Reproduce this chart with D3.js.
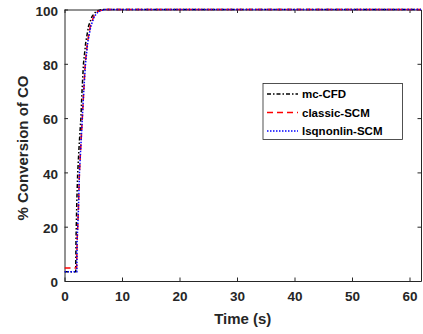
<!DOCTYPE html>
<html>
<head>
<meta charset="utf-8">
<script src="https://cdn.jsdelivr.net/npm/d3@7"></script>
<style>
  body { margin: 0; background: #fff; }
  svg { display: block; font-family: "Liberation Sans", Arial, sans-serif; }
</style>
</head>
<body>
<svg id="chart" width="423" height="334"></svg>
<script>
// data
const mcTime = [0, 1.95, 2.0, 2.15, 2.3, 2.55, 2.85, 3.05, 3.3, 3.7, 4.2, 4.8, 5.5, 6.5, 62];
const mcConv = [3.4, 3.4, 15, 30, 40, 50, 60, 70, 80, 88, 94, 97.5, 99.3, 100, 100];
const classicTime = [0, 2.1, 2.2, 2.4, 2.6, 2.85, 3.1, 3.35, 3.6, 4.0, 4.5, 5.1, 5.8, 7, 62];
const classicConv = [4.8, 4.8, 15, 25, 40, 50, 60, 70, 80, 88, 94, 97.5, 99.3, 100, 100];
const lsqTime = [0, 2.15, 2.2, 2.4, 2.6, 2.85, 3.1, 3.35, 3.65, 4.05, 4.6, 5.2, 5.9, 7, 62];
const lsqConv = [3.4, 3.4, 15, 25, 40, 50, 60, 70, 80, 88, 94, 97.5, 99.3, 100, 100];
const xTicks = [0, 10, 20, 30, 40, 50, 60];
const yTicks = [0, 20, 40, 60, 80, 100];

const series = [
  { name: "mc-CFD", t: mcTime, v: mcConv, color: "#000", dash: "4,2,1.5,2" },
  { name: "classic-SCM", t: classicTime, v: classicConv, color: "#ff0000", dash: "6,4" },
  { name: "lsqnonlin-SCM", t: lsqTime, v: lsqConv, color: "#0000ff", dash: "1.5,1.5" }
];

const svg = d3.select("#chart");
const margin = { top: 9.5, right: 2, bottom: 53, left: 64.5 };
const width = 423 - margin.left - margin.right;
const height = 334 - margin.top - margin.bottom;

const g = svg.append("g").attr("transform", `translate(${margin.left},${margin.top})`);

const x = d3.scaleLinear().domain([0, 62]).range([0, width]);
const y = d3.scaleLinear().domain([0, 100]).range([height, 0]);

g.append("defs").append("clipPath").attr("id", "clip")
  .append("rect").attr("x", 0).attr("y", -2).attr("width", width).attr("height", height + 2);

const tickLen = 3.5;
const axisColor = "#262626";

function styleAxis(sel) {
  sel.select(".domain").attr("stroke", axisColor);
  sel.selectAll(".tick line").attr("stroke", axisColor);
  sel.selectAll("text")
    .attr("fill", axisColor)
    .style("font-size", "13.5px")
    .style("font-weight", "bold");
}

g.append("g")
  .attr("transform", `translate(0,${height})`)
  .call(d3.axisBottom(x).tickValues(xTicks).tickSizeInner(-tickLen).tickSizeOuter(0).tickPadding(10.5))
  .call(styleAxis);

g.append("g")
  .call(d3.axisLeft(y).tickValues(yTicks).tickSizeInner(-tickLen).tickSizeOuter(0).tickPadding(6.5))
  .call(styleAxis)
  .selectAll("text").attr("dy", "0.42em");

g.append("g")
  .call(d3.axisTop(x).tickValues(xTicks).tickSizeInner(-tickLen).tickSizeOuter(0).tickFormat(""))
  .call(styleAxis);

g.append("g")
  .attr("transform", `translate(${width},0)`)
  .call(d3.axisRight(y).tickValues(yTicks).tickSizeInner(-tickLen).tickSizeOuter(0).tickFormat(""))
  .call(styleAxis);

const line = d3.line().x(d => x(d[0])).y(d => y(d[1]));

g.append("g").attr("clip-path", "url(#clip)")
  .selectAll("path")
  .data(series)
  .enter()
  .append("path")
  .attr("d", s => line(s.t.map((t, i) => [t, s.v[i]])))
  .attr("fill", "none")
  .attr("stroke", s => s.color)
  .attr("stroke-width", 1.5)
  .attr("stroke-dasharray", s => s.dash);

svg.append("text")
  .attr("x", margin.left + width / 2)
  .attr("y", 323.5)
  .attr("text-anchor", "middle")
  .attr("fill", axisColor)
  .style("font-size", "15px")
  .style("font-weight", "bold")
  .text("Time (s)");

svg.append("text")
  .attr("transform", "translate(28,148) rotate(-90)")
  .attr("text-anchor", "middle")
  .attr("fill", axisColor)
  .style("font-size", "15px")
  .style("font-weight", "bold")
  .text("% Conversion of CO");

// legend
const legend = svg.append("g").attr("transform", "translate(263,83.5)");
legend.append("rect")
  .attr("width", 139.5)
  .attr("height", 56)
  .attr("fill", "#fff")
  .attr("stroke", axisColor)
  .attr("stroke-width", 0.8);

const items = legend.selectAll("g.item")
  .data(series)
  .enter()
  .append("g")
  .attr("class", "item")
  .attr("transform", (d, i) => `translate(0,${10.5 + i * 18.5})`);

items.append("line")
  .attr("x1", 4).attr("x2", 35)
  .attr("stroke", d => d.color)
  .attr("stroke-width", 1.5)
  .attr("stroke-dasharray", d => d.dash);

items.append("text")
  .attr("x", 39)
  .attr("y", 4)
  .attr("fill", "#000")
  .style("font-size", "11.5px")
  .style("font-weight", "bold")
  .text(d => d.name);
</script>
</body>
</html>
